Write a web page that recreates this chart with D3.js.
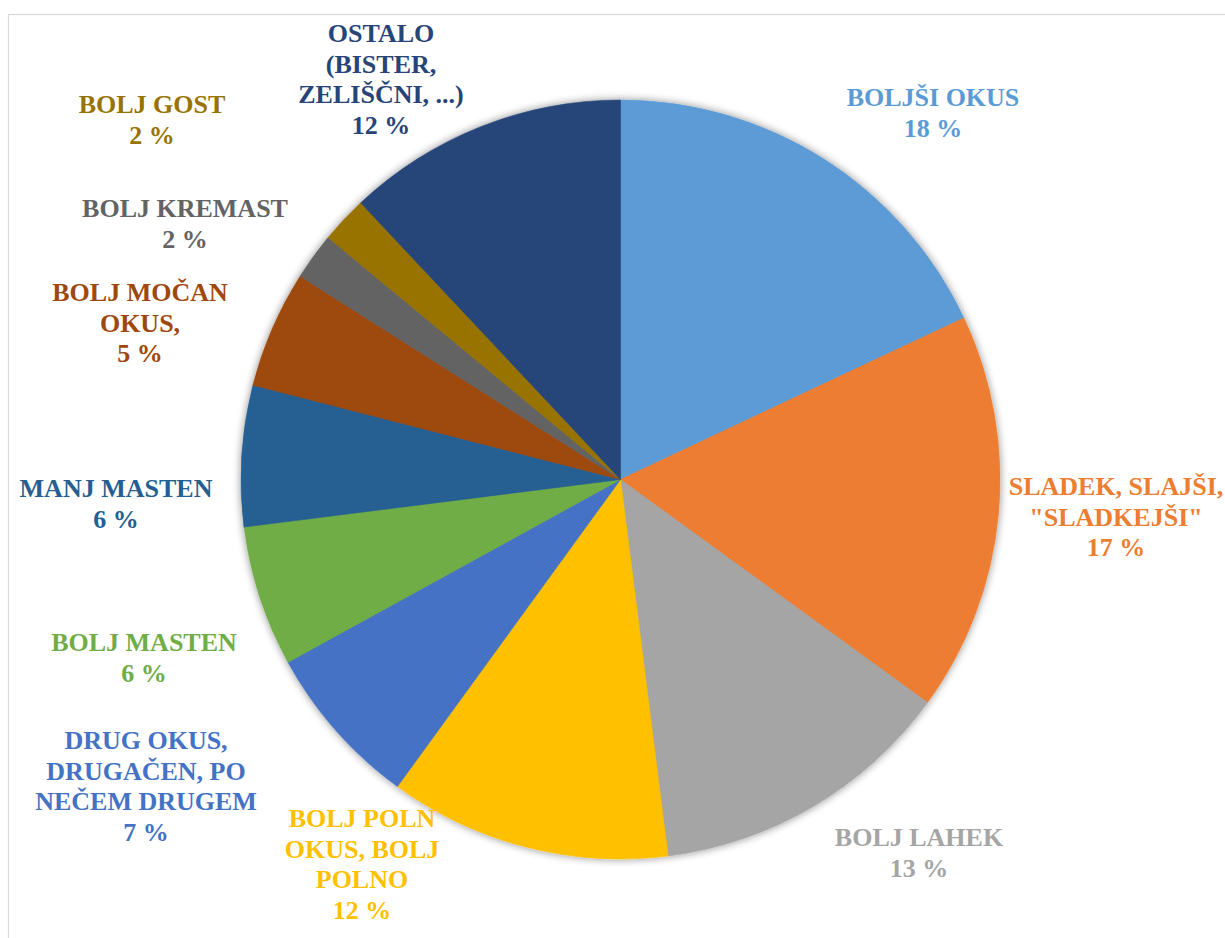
<!DOCTYPE html>
<html>
<head>
<meta charset="utf-8">
<script src="https://cdn.jsdelivr.net/npm/d3@7"></script>
<style>
  html, body { margin: 0; padding: 0; background: #fff; }
  svg { display: block; }
</style>
</head>
<body>
<svg id="chart" width="1225" height="938"></svg>
<script>
// Slice categories (each label split into its display lines)
const categories = [
  ["BOLJŠI OKUS"],
  ["SLADEK, SLAJŠI,", "\"SLADKEJŠI\""],
  ["BOLJ LAHEK"],
  ["BOLJ POLN", "OKUS, BOLJ", "POLNO"],
  ["DRUG OKUS,", "DRUGAČEN, PO", "NEČEM DRUGEM"],
  ["BOLJ MASTEN"],
  ["MANJ MASTEN"],
  ["BOLJ MOČAN", "OKUS,"],
  ["BOLJ KREMAST"],
  ["BOLJ GOST"],
  ["OSTALO", "(BISTER,", "ZELIŠČNI, ...)"]
];
// Share of answers, percent
const values = [18, 17, 13, 12, 7, 6, 6, 5, 2, 2, 12];
const colors = ["#5B9BD5", "#ED7D31", "#A5A5A5", "#FFC000", "#4472C4", "#70AD47",
                "#255E91", "#9E480E", "#636363", "#997300", "#264478"];
// Label anchor: centre x and first baseline y
const labelPos = [
  [933, 106], [1116, 495], [919, 846], [362, 827], [146, 749], [144, 651],
  [116, 497], [140, 301], [185, 217], [152, 113], [381, 42]
];

const svg = d3.select("#chart");
const cx = 620.5, cy = 479.5, r = 379.5;
const lineH = 30.5;

// Chart area frame
svg.append("rect")
  .attr("x", 8.5).attr("y", 14.5)
  .attr("width", 1300).attr("height", 1000)
  .attr("fill", "#fff")
  .attr("stroke", "#d9d9d9").attr("stroke-width", 1.2);

const defs = svg.append("defs");
const f = defs.append("filter").attr("id", "soft")
  .attr("x", "-10%").attr("y", "-10%").attr("width", "120%").attr("height", "120%");
f.append("feGaussianBlur").attr("in", "SourceAlpha").attr("stdDeviation", 4).attr("result", "b");
f.append("feOffset").attr("in", "b").attr("dx", 0).attr("dy", 0).attr("result", "o");
f.append("feComponentTransfer").attr("in", "o").attr("result", "s")
  .append("feFuncA").attr("type", "linear").attr("slope", 0.45);
const m = f.append("feMerge");
m.append("feMergeNode").attr("in", "s");
m.append("feMergeNode").attr("in", "SourceGraphic");

const pie = d3.pie().sort(null).value(d => d)(values);
const arc = d3.arc().innerRadius(0).outerRadius(r);

const g = svg.append("g").attr("transform", `translate(${cx},${cy})`).attr("filter", "url(#soft)");
g.selectAll("path").data(pie).join("path")
  .attr("d", arc)
  .attr("fill", (d, i) => colors[i])
  .attr("stroke", (d, i) => colors[i])
  .attr("stroke-width", 0.6);

const labels = svg.append("g")
  .attr("font-family", "'Liberation Serif', 'Times New Roman', serif")
  .attr("font-weight", "bold")
  .attr("font-size", 26)
  .attr("text-anchor", "middle");

categories.forEach((lines, i) => {
  const [x, y] = labelPos[i];
  const t = labels.append("text").attr("fill", colors[i]);
  lines.concat([values[i] + " %"]).forEach((s, k) => {
    t.append("tspan").attr("x", x).attr("y", y + k * lineH).text(s);
  });
});
</script>
</body>
</html>
